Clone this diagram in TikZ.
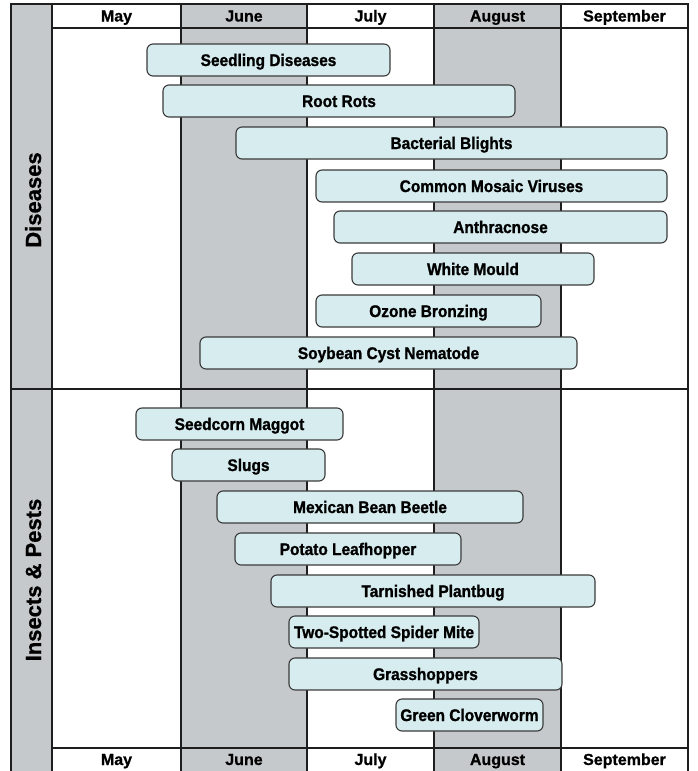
\documentclass[tikz,border=0pt]{standalone}
\usepackage{fontspec}
\setmainfont{Liberation Sans}
\newfontfamily\condfont{Liberation Sans}[FakeStretch=0.92,FakeBold=1.2]
\newfontfamily\heavyfont{Liberation Sans}[FakeBold=0.8]
\definecolor{colgray}{HTML}{C6C9CB}
\definecolor{barfill}{HTML}{D6ECEF}
\definecolor{gridline}{HTML}{1E1E1E}
\definecolor{barline}{HTML}{3A3A3A}
\begin{document}
\begin{tikzpicture}[x=1pt,y=-1pt,
  gridrule/.style={draw=gridline,line width=1.4pt},
  pestbar/.style={draw=barline,line width=1.1pt,fill=barfill,rounded corners=6pt,
    minimum height=32pt,inner sep=0pt,text height=12pt,text depth=0pt,
    font=\condfont\fontsize{16.8}{18}\selectfont\bfseries},
  month/.style={inner sep=0pt,anchor=base,font=\heavyfont\fontsize{16}{17}\selectfont\bfseries},
  section/.style={rotate=90,inner sep=0pt,text height=16pt,text depth=0pt,
    font=\heavyfont\fontsize{22}{24}\selectfont\bfseries}]
\useasboundingbox (0,0) rectangle (697,771);
% shaded columns
\fill[colgray] (11,4) rectangle (52,771);
\fill[colgray] (181,4) rectangle (307,771);
\fill[colgray] (434,4) rectangle (561,771);
% grid
\draw[gridrule] (11,771) -- (11,4) -- (688,4) -- (688,771);
\foreach \xx in {52,181,307,434,561} \draw[gridrule] (\xx,4) -- (\xx,771);
\draw[gridrule] (52,28) -- (688,28);
\draw[gridrule] (11,389) -- (688,389);
\draw[gridrule] (52,748) -- (688,748);
% month labels
\node[month] (h1) at (116.5,21.5) {May};
\node[month] (h2) at (244,21.5) {June};
\node[month] (h3) at (370.5,21.5) {July};
\node[month] (h4) at (497.5,21.5) {August};
\node[month] (h5) at (624.5,21.5) {September};
\node[month] (f1) at (116.5,765) {May};
\node[month] (f2) at (244,765) {June};
\node[month] (f3) at (370.5,765) {July};
\node[month] (f4) at (497.5,765) {August};
\node[month] (f5) at (624.5,765) {September};
% section labels
\node[section] (s1) at (33,200) {Diseases};
\node[section] (s2) at (33,580) {Insects \& Pests};
% disease bars
\node[pestbar,minimum width=243pt] (b1) at (268.5,60) {Seedling Diseases};
\node[pestbar,minimum width=352pt] (b2) at (339,101) {Root Rots};
\node[pestbar,minimum width=431pt] (b3) at (451.5,143) {Bacterial Blights};
\node[pestbar,minimum width=351pt] (b4) at (491.5,186) {Common Mosaic Viruses};
\node[pestbar,minimum width=333pt] (b5) at (500.5,227) {Anthracnose};
\node[pestbar,minimum width=242pt] (b6) at (473,269) {White Mould};
\node[pestbar,minimum width=225pt] (b7) at (428.5,311) {Ozone Bronzing};
\node[pestbar,minimum width=377pt] (b8) at (388.5,353) {Soybean Cyst Nematode};
% insect bars
\node[pestbar,minimum width=207pt] (i1) at (239.5,424) {Seedcorn Maggot};
\node[pestbar,minimum width=153pt] (i2) at (248.5,465) {Slugs};
\node[pestbar,minimum width=306pt] (i3) at (370,507) {Mexican Bean Beetle};
\node[pestbar,minimum width=226pt] (i4) at (348,549) {Potato Leafhopper};
\node[pestbar,minimum width=324pt] (i5) at (433,591) {Tarnished Plantbug};
\node[pestbar,minimum width=190pt] (i6) at (384,632) {Two-Spotted Spider Mite};
\node[pestbar,minimum width=273pt] (i7) at (425.5,674) {Grasshoppers};
\node[pestbar,minimum width=147pt] (i8) at (469.5,715) {Green Cloverworm};
\end{tikzpicture}
\end{document}
